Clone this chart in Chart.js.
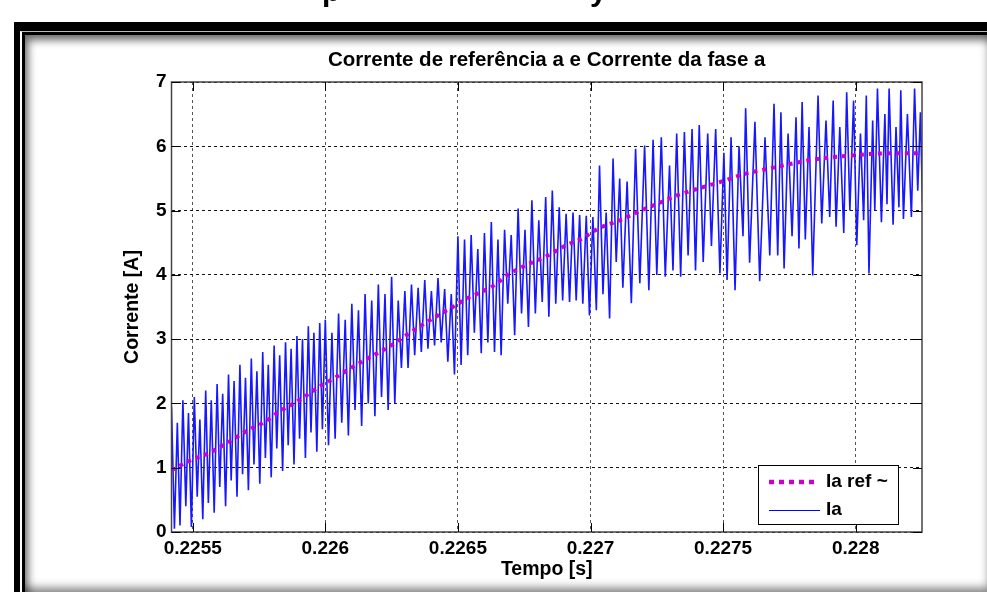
<!DOCTYPE html>
<html><head><meta charset="utf-8">
<script src="https://cdn.jsdelivr.net/npm/chart.js@4/dist/chart.umd.min.js"></script>
<style>
html,body{margin:0;padding:0;background:#fff;width:987px;height:592px;overflow:hidden}
#frame{position:absolute;left:14px;top:22px;width:973px;height:570px;background:#000}
#line{position:absolute;left:20px;top:31px;width:967px;height:561px;border-left:2px solid #fff;border-top:1px solid #bbb;box-sizing:border-box;background:#000}
#panel{position:absolute;left:25px;top:35px;width:962px;height:557px;background:#fff;box-shadow:inset 6px 8px 8px -3px rgba(0,0,0,.6), inset -4px -10px 10px -6px rgba(0,0,0,.5)}
#c{position:absolute;left:0;top:0}
</style></head>
<body>
<div id="frame"></div><div id="line"></div><div id="panel"></div>
<canvas id="c" width="987" height="592"></canvas>
<script>
// ---- data ----
const chartTitle = 'Corrente de referência a e Corrente da fase a';
const xTitle = 'Tempo [s]';
const yTitle = 'Corrente [A]';
const seriesNames = ['Ia ref ~', 'Ia'];
const xMin = 0.22542, xMax = 0.22825;
const xTicks = [0.2255, 0.226, 0.2265, 0.227, 0.2275, 0.228];
const xTickLabels = ['0.2255', '0.226', '0.2265', '0.227', '0.2275', '0.228'];
const yTicks = [0, 1, 2, 3, 4, 5, 6, 7];
const yTickLabels = ['0', '1', '2', '3', '4', '5', '6', '7'];

const refT = [0.225420,0.225494,0.225557,0.225624,0.225707,0.225770,0.225833,0.225890,0.225978,0.226041,
  0.226104,0.226160,0.226248,0.226305,0.226361,0.226437,0.226481,0.226537,0.226575,0.226638,
  0.226688,0.226757,0.226839,0.226908,0.226971,0.227028,0.227091,0.227122,0.227190,0.227254,
  0.227329,0.227405,0.227493,0.227581,0.227670,0.227770,0.227870,0.227996,0.228109,0.228250];
const refV = [0.96,1.12,1.22,1.37,1.58,1.71,1.89,2.02,2.26,2.41,
  2.57,2.70,2.90,3.06,3.21,3.40,3.50,3.64,3.71,3.84,
  4.00,4.15,4.30,4.46,4.57,4.72,4.82,4.87,5.00,5.11,
  5.24,5.34,5.45,5.57,5.65,5.74,5.81,5.86,5.89,5.89];

const iaT = [
  0.225420,0.225431,0.225442,0.225452,0.225463,0.225474,0.225484,0.225495,0.225506,0.225517,
  0.225527,0.225538,0.225549,0.225559,0.225570,0.225581,0.225592,0.225602,0.225613,0.225624,
  0.225635,0.225645,0.225656,0.225667,0.225678,0.225688,0.225699,0.225710,0.225721,0.225731,
  0.225742,0.225753,0.225764,0.225774,0.225785,0.225796,0.225807,0.225817,0.225828,0.225839,
  0.225850,0.225860,0.225871,0.225882,0.225893,0.225903,0.225914,0.225925,0.225936,0.225946,
  0.225957,0.225968,0.225979,0.225989,
  0.226000,0.226012,0.226025,0.226037,0.226050,0.226062,0.226075,0.226087,0.226100,0.226112,
  0.226125,0.226137,0.226150,0.226162,0.226175,0.226187,0.226200,0.226212,0.226225,0.226237,
  0.226250,0.226262,0.226275,0.226287,0.226300,0.226312,0.226325,0.226337,0.226350,0.226362,
  0.226375,0.226387,0.226400,0.226412,0.226425,0.226437,0.226450,0.226462,0.226475,0.226487,
  0.226500,0.226512,0.226525,0.226537,0.226550,
  0.226562,0.226575,0.226588,0.226600,0.226613,0.226626,0.226638,0.226651,0.226663,0.226676,
  0.226688,0.226701,0.226714,0.226727,0.226740,0.226753,0.226766,0.226779,0.226792,0.226805,
  0.226818,0.226831,0.226843,0.226856,0.226869,0.226882,0.226895,0.226908,0.226921,0.226934,
  0.226946,0.226959,0.226971,0.226984,0.226996,0.227009,0.227022,0.227034,0.227047,0.227059,
  0.227072,0.227085,0.227097,0.227110,0.227122,
  0.227138,0.227154,0.227170,0.227186,0.227204,0.227220,0.227236,0.227250,0.227267,0.227282,
  0.227298,0.227311,0.227325,0.227340,0.227354,0.227368,0.227383,0.227396,0.227410,0.227425,
  0.227442,0.227456,0.227472,0.227488,0.227503,0.227515,0.227530,0.227545,0.227560,0.227575,
  0.227585,0.227600,0.227620,0.227638,0.227658,0.227676,
  0.227692,0.227706,0.227718,0.227730,0.227745,0.227760,0.227775,0.227786,0.227798,0.227810,
  0.227824,0.227838,0.227858,0.227872,0.227888,0.227902,0.227915,0.227926,0.227940,0.227955,
  0.227966,0.227978,0.227992,0.228004,0.228018,0.228030,0.228040,0.228050,0.228064,0.228072,
  0.228082,0.228097,0.228110,0.228118,0.228126,0.228141,0.228152,0.228163,0.228170,0.228180,
  0.228195,0.228210,0.228222,0.228234,0.228244,0.228252];
const iaV = [
  1.95,0.05,1.70,0.10,2.05,0.40,1.85,0.08,2.10,0.55,
  1.75,0.20,2.20,0.45,2.05,0.30,2.30,0.70,2.15,0.40,
  2.45,0.80,2.35,0.55,2.60,0.90,2.40,0.65,2.70,1.05,
  2.50,0.75,2.80,1.15,2.60,0.85,2.90,1.30,2.75,0.95,
  2.95,1.35,2.85,1.05,3.05,1.45,3.00,1.15,3.20,1.55,
  3.10,1.25,3.25,1.60,
  3.30,1.35,3.10,1.45,3.40,1.70,3.30,1.50,3.55,1.90,
  3.45,1.65,3.70,2.00,3.60,1.80,3.85,2.10,3.70,1.90,
  3.97,2.00,3.60,2.55,3.75,2.55,3.85,2.75,3.80,2.80,
  3.92,2.85,3.75,2.90,3.95,2.95,3.78,2.65,3.70,2.45,
  4.60,2.60,4.55,2.75,4.62,
  3.10,4.40,2.78,4.65,2.95,4.82,2.80,4.55,2.75,4.70,
  3.55,4.62,3.06,5.03,3.40,4.70,3.19,5.16,3.40,4.85,
  3.58,5.21,3.35,5.31,3.55,5.05,3.60,4.95,3.58,4.97,
  3.60,4.93,3.55,4.92,3.37,4.90,3.45,5.70,3.70,4.97,
  3.32,5.81,4.20,5.50,3.80,
  5.45,3.56,5.96,3.87,6.01,3.76,6.10,4.00,6.14,3.97,
  5.70,4.07,6.20,3.97,6.22,4.30,6.27,4.07,6.33,4.20,
  6.20,4.45,6.27,4.02,5.90,3.92,6.14,3.76,6.00,4.60,
  6.59,4.19,6.38,3.90,6.14,4.30,
  6.66,4.30,6.53,4.10,6.20,4.60,6.45,4.41,6.69,4.55,
  6.30,3.99,6.79,4.80,6.40,4.90,6.71,4.75,6.30,4.65,
  6.84,5.00,6.71,4.46,6.20,4.85,6.79,4.02,6.40,5.00,
  6.90,4.82,6.50,5.10,6.90,4.78,6.30,5.05,6.87,4.87,
  6.50,4.90,6.90,5.31,6.53,5.10];

// ---- styles ----
const FONT = '"Liberation Sans", Arial, sans-serif';
const refColor = '#cc00cc';
const iaColor = '#1818ff';

const refData = refT.map((t, i) => ({x: t, y: refV[i]}));
const iaData = iaT.map((t, i) => ({x: t, y: iaV[i]}));

const deco = {
  id: 'deco',
  afterDraw(chart) {
    const ctx = chart.ctx, a = chart.chartArea;
    const xs = chart.scales.x, ys = chart.scales.y;
    ctx.save();
    // box
    ctx.strokeStyle = '#444'; ctx.lineWidth = 1.5;
    ctx.strokeRect(a.left, a.top, a.right - a.left, a.bottom - a.top);
    // inward ticks
    ctx.strokeStyle = '#000'; ctx.lineWidth = 1;
    ctx.beginPath();
    yTicks.forEach(v => {
      const p = Math.round(ys.getPixelForValue(v)) + 0.5;
      ctx.moveTo(a.left, p); ctx.lineTo(a.left + 9, p);
      ctx.moveTo(a.right, p); ctx.lineTo(a.right - 9, p);
    });
    xTicks.forEach(v => {
      const p = Math.round(xs.getPixelForValue(v)) + 0.5;
      ctx.moveTo(p, a.bottom); ctx.lineTo(p, a.bottom - 9);
      ctx.moveTo(p, a.top); ctx.lineTo(p, a.top + 9);
    });
    ctx.stroke();
    // legend
    ctx.fillStyle = '#fff'; ctx.fillRect(758.5, 465.5, 140, 59);
    ctx.strokeStyle = '#000'; ctx.lineWidth = 1; ctx.strokeRect(758.5, 465.5, 140, 59);
    ctx.save();
    ctx.strokeStyle = refColor; ctx.lineWidth = 4.5; ctx.setLineDash([5, 5]);
    ctx.beginPath(); ctx.moveTo(769, 482); ctx.lineTo(816, 482); ctx.stroke();
    ctx.restore();
    ctx.strokeStyle = '#0000ff'; ctx.lineWidth = 1;
    ctx.beginPath(); ctx.moveTo(769, 510.5); ctx.lineTo(820, 510.5); ctx.stroke();
    ctx.fillStyle = '#000'; ctx.font = 'bold 19px ' + FONT;
    ctx.textBaseline = 'middle'; ctx.textAlign = 'left';
    ctx.fillText(seriesNames[0], 826, 482);
    ctx.fillText(seriesNames[1], 826, 510);
    // titles
    ctx.textAlign = 'center';
    ctx.font = 'bold 20.5px ' + FONT;
    ctx.fillText(chartTitle, (a.left + a.right) / 2, 60);
    ctx.font = 'bold 19.5px ' + FONT;
    ctx.fillText(xTitle, (a.left + a.right) / 2, 570);
    ctx.save();
    ctx.translate(133, (a.top + a.bottom) / 2);
    ctx.rotate(-Math.PI / 2);
    ctx.fillText(yTitle, 0, 0);
    ctx.restore();
    // cut-off heading glyphs at very top
    ctx.font = 'bold 30px ' + FONT; ctx.textBaseline = 'alphabetic'; ctx.textAlign = 'left';
    ctx.fillText('p', 322, 1);
    ctx.fillText('y', 590, 1);
    ctx.restore();
  }
};

const tickFont = {family: FONT, size: 19, weight: 'bold'};
new Chart(document.getElementById('c'), {
  type: 'line',
  data: {
    datasets: [
      {label: seriesNames[0], data: refData, borderColor: refColor, borderWidth: 4, borderDash: [4, 5],
       pointRadius: 0, fill: false, cubicInterpolationMode: 'monotone', order: 0},
      {label: seriesNames[1], data: iaData, borderColor: iaColor, borderWidth: 1.6,
       pointRadius: 0, fill: false, tension: 0, order: 1}
    ]
  },
  options: {
    responsive: false, animation: false, devicePixelRatio: 1,
    layout: {padding: {left: 0, right: 65, top: 82, bottom: 0}},
    plugins: {legend: {display: false}, title: {display: false}, tooltip: {enabled: false}},
    events: [],
    scales: {
      x: {
        type: 'linear', min: xMin, max: xMax,
        afterBuildTicks: s => { s.ticks = xTicks.map(v => ({value: v})); },
        afterFit: s => { s.height = 60; },
        ticks: {callback: (v, i) => xTickLabels[i], autoSkip: false, maxRotation: 0, font: tickFont, color: '#000', padding: 5},
        grid: {color: '#555', drawTicks: false, lineWidth: 1},
        border: {display: false, dash: [3, 3]}
      },
      y: {
        type: 'linear', min: 0, max: 7,
        afterBuildTicks: s => { s.ticks = yTicks.map(v => ({value: v})); },
        afterFit: s => { s.width = 171.5; },
        ticks: {callback: (v, i) => yTickLabels[i], font: tickFont, color: '#000', padding: 5},
        grid: {color: '#111', drawTicks: false, lineWidth: 1},
        border: {display: false, dash: [3, 3]}
      }
    }
  },
  plugins: [deco]
});
</script>
</body></html>
